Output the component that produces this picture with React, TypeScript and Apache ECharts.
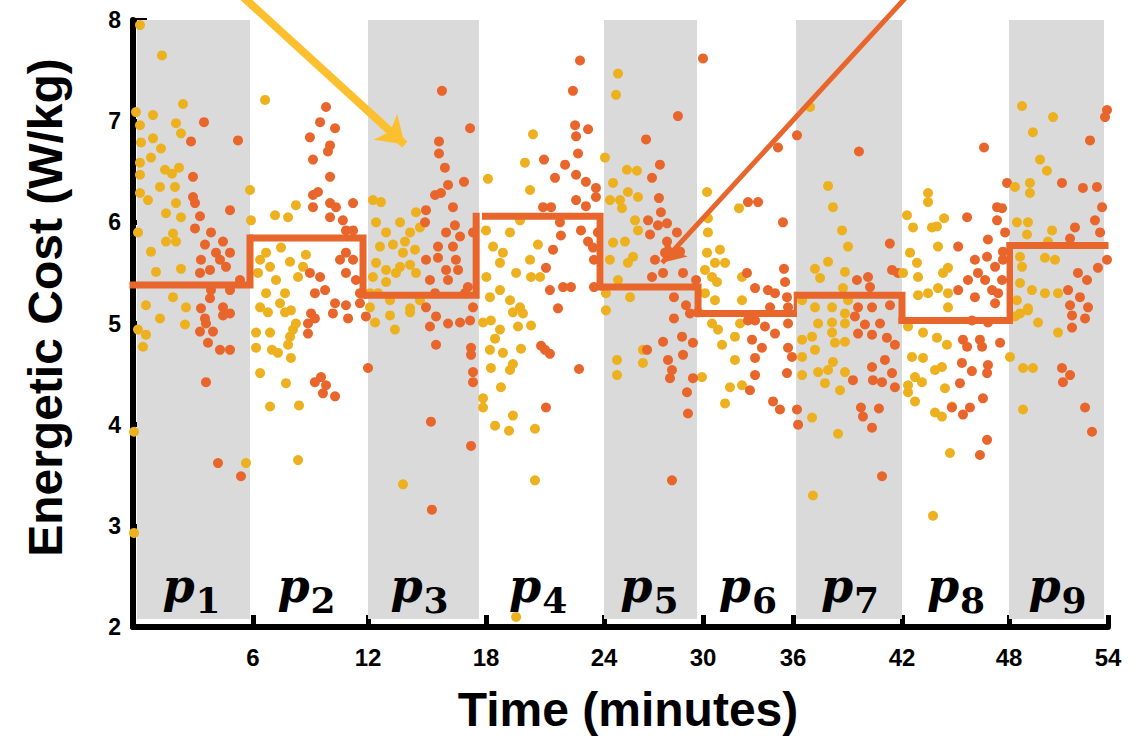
import React, { useEffect, useRef } from 'react';
import * as echarts from 'echarts';

// ---------- data ----------
const periodLabels = ['1', '2', '3', '4', '5', '6', '7', '8', '9'];
// step (period mean) line: period edges in minutes and values in W/kg
const stepEdges = [0, 5.85, 11.74, 17.5, 23.8, 29.7, 36.28, 42.0, 48.06, 53.82];
const stepValues = [5.38, 5.845, 5.28, 6.06, 5.36, 5.1, 5.28, 5.03, 5.77];
// shaded periods (minutes)
const bandEdges: [number, number][] = [[0.2, 5.85], [11.8, 17.64], [23.64, 29.64], [36.17, 42.0], [48.0, 53.76]];
const bandLow = 2.08;
const bandHigh = 8.1;
// annotation arrows [minutes, W/kg] (tail -> head)
const arrowYellow: [number, number][] = [[5.07, 8.395], [15.05, 6.77]];
const arrowOrange: [number, number][] = [[43.69, 8.395], [29.3, 5.6]];

const yellowPoints: [number, number][] = [
  // p1
  [0.35, 7.95], [1.45, 7.65], [0.15, 7.09], [1.0, 7.06], [0.35, 6.96], [2.15, 6.98], [2.5, 7.17], [2.4, 6.88], [1.0, 6.83], [1.4, 6.73],
  [0.4, 6.79], [0.9, 6.64], [0.35, 6.59], [0.35, 6.47], [1.6, 6.52], [1.95, 6.48], [2.3, 6.54], [2.1, 6.35], [2.15, 6.19], [1.35, 6.35],
  [0.35, 6.29], [0.75, 6.22], [1.65, 6.09], [2.4, 6.05], [0.25, 5.9], [2.0, 5.89], [1.65, 5.81], [0.9, 5.71], [2.15, 5.81], [1.15, 5.51],
  [2.4, 5.54], [2.0, 5.26], [0.65, 5.18], [2.65, 5.16], [1.35, 5.05], [0.65, 4.89], [2.6, 4.99], [0.5, 4.77], [0.25, 4.94], [0.05, 3.93],
  [0.05, 2.93], [5.65, 3.62], [5.85, 6.32], [5.9, 6.02],
  // p2
  [6.63, 7.21], [7.15, 6.07], [7.83, 6.05], [8.24, 6.17], [6.68, 5.7], [7.46, 5.75], [6.37, 5.63], [6.89, 5.56], [7.93, 5.61], [7.2, 5.43],
  [6.26, 5.5], [6.68, 5.3], [7.67, 5.3], [8.35, 5.46], [8.76, 5.68], [8.61, 5.56], [6.37, 5.16], [7.41, 5.2], [7.98, 5.13], [6.16, 4.91],
  [6.89, 4.91], [6.16, 4.76], [6.99, 4.74], [7.3, 4.71], [7.83, 4.79], [8.09, 4.94], [8.24, 5.0], [7.93, 4.87], [6.78, 5.11], [7.67, 5.11],
  [6.37, 4.51], [7.72, 4.41], [7.98, 4.66], [6.89, 4.18], [8.4, 4.19], [8.35, 3.65],
  // p3
  [12.25, 6.22], [12.66, 6.2], [12.41, 6.0], [12.92, 5.9], [13.63, 6.0], [14.14, 5.9], [14.44, 6.1], [14.64, 5.95], [12.61, 5.76], [13.27, 5.78],
  [13.88, 5.81], [13.78, 5.7], [14.39, 5.73], [12.41, 5.6], [12.92, 5.53], [13.63, 5.56], [14.14, 5.58], [12.25, 5.46], [12.92, 5.41], [13.42, 5.5],
  [14.44, 5.5], [12.1, 5.3], [12.51, 5.3], [13.12, 5.23], [14.14, 5.15], [14.64, 5.23], [12.1, 5.16], [12.36, 5.01], [13.12, 5.08], [13.37, 4.94],
  [14.14, 5.11], [13.78, 3.41],
  // p4
  [18.1, 6.43], [20.39, 6.87], [19.98, 6.59], [20.24, 6.32], [19.73, 6.02], [19.22, 5.9], [18.0, 5.92], [18.36, 5.76], [18.86, 5.7], [18.71, 5.6],
  [20.24, 5.63], [19.53, 5.5], [20.29, 5.46], [18.02, 5.46], [18.71, 5.33], [18.2, 5.26], [19.22, 5.23], [19.73, 5.16], [20.64, 5.78], [20.75, 5.46],
  [17.85, 5.01], [18.25, 5.03], [18.71, 4.94], [18.46, 4.85], [18.2, 4.74], [18.86, 4.71], [19.37, 4.6], [19.22, 4.54], [18.25, 4.56], [18.76, 4.37],
  [17.85, 4.26], [17.85, 4.17], [19.37, 4.09], [18.46, 3.99], [19.17, 3.94], [20.49, 3.96], [20.49, 3.45], [19.78, 4.75], [20.29, 4.98], [19.63, 4.97],
  [19.88, 5.1], [19.37, 5.11], [19.53, 2.1],
  // p5
  [24.85, 7.47], [24.73, 7.26], [24.55, 6.39], [24.36, 6.22], [24.55, 5.8], [24.36, 5.63], [24.12, 5.3], [24.12, 5.13], [24.06, 6.64], [25.39, 6.52],
  [26.0, 6.51], [24.97, 6.22], [25.45, 6.3], [25.09, 6.14], [26.06, 6.25], [25.88, 6.02], [25.27, 5.81], [25.76, 5.66], [26.06, 5.92], [25.45, 5.6],
  [24.85, 5.43], [25.58, 5.26], [24.79, 4.64], [24.79, 4.49], [26.36, 4.74], [26.36, 4.61], [29.94, 4.47],
  // p6
  [30.27, 6.3], [32.4, 6.14], [30.33, 6.04], [30.33, 5.9], [30.27, 5.7], [31.13, 5.73], [30.8, 5.6], [31.47, 5.6], [30.13, 5.53], [30.6, 5.46],
  [30.93, 5.41], [32.6, 5.46], [30.13, 5.3], [30.8, 5.23], [32.6, 5.23], [30.6, 5.0], [31.0, 4.94], [32.13, 4.87], [31.27, 4.79], [32.13, 4.64],
  [32.47, 5.0], [31.8, 4.37], [32.6, 4.39], [31.47, 4.21],
  // p7
  [37.93, 6.36], [38.2, 6.15], [38.7, 5.92], [39.03, 5.76], [36.94, 7.14], [37.93, 5.61], [37.21, 5.54], [37.49, 5.45], [38.86, 5.51], [38.75, 5.35],
  [36.5, 5.23], [37.21, 5.16], [38.15, 5.16], [39.03, 5.23], [36.5, 4.84], [37.05, 4.87], [37.38, 5.0], [38.15, 5.01], [38.86, 5.0], [38.15, 4.91],
  [38.31, 4.81], [37.21, 4.74], [38.86, 4.82], [36.5, 4.67], [36.5, 4.49], [37.38, 4.52], [37.93, 4.54], [38.2, 4.62], [38.86, 4.52], [37.76, 4.41],
  [38.59, 4.34], [37.05, 4.07], [38.48, 3.91], [37.1, 3.3], [38.86, 5.1],
  // p8
  [43.46, 6.29], [43.46, 6.2], [42.28, 6.07], [42.62, 5.95], [43.68, 5.95], [43.96, 5.96], [44.36, 6.04], [44.02, 5.76], [42.45, 5.7], [42.84, 5.6],
  [42.9, 5.46], [44.58, 5.55], [44.3, 5.5], [44.02, 5.35], [42.9, 5.28], [43.46, 5.3], [44.58, 5.3], [42.06, 5.5], [44.58, 5.16], [42.34, 4.97],
  [43.18, 4.91], [43.96, 4.86], [44.52, 4.79], [42.56, 4.67], [43.18, 4.66], [43.85, 4.54], [44.24, 4.57], [42.73, 4.47], [42.34, 4.39], [43.12, 4.42],
  [42.34, 4.32], [42.73, 4.23], [44.41, 4.36], [43.85, 4.12], [44.24, 4.08], [44.8, 4.18], [44.69, 3.72], [43.74, 3.1],
  // p9
  [48.79, 7.15], [50.67, 7.04], [49.45, 6.89], [49.88, 6.62], [50.3, 6.51], [48.36, 6.35], [49.27, 6.39], [49.27, 6.29], [48.48, 6.0], [49.15, 6.0],
  [49.09, 5.88], [50.61, 5.92], [50.36, 5.81], [48.67, 5.66], [50.18, 5.65], [50.79, 5.63], [48.79, 5.56], [48.67, 5.4], [49.39, 5.33], [50.18, 5.3],
  [48.48, 5.23], [49.15, 5.15], [50.97, 5.3], [48.67, 5.1], [49.15, 5.13], [49.76, 5.01], [50.97, 4.91], [48.85, 4.56], [49.45, 4.56], [48.85, 4.15],
  [48.06, 4.67], [48.36, 5.07],
];

const orangePoints: [number, number][] = [
  // p1
  [3.55, 6.99], [5.25, 6.81], [2.9, 6.8], [3.0, 6.45], [3.0, 6.25], [3.1, 6.19], [3.35, 6.06], [4.85, 6.12], [3.1, 5.94], [3.9, 5.9],
  [4.5, 5.81], [3.6, 5.78], [4.15, 5.7], [4.85, 5.7], [3.4, 5.63], [4.35, 5.63], [3.85, 5.53], [4.65, 5.56], [3.35, 5.5], [5.35, 5.43],
  [3.9, 5.33], [4.85, 5.33], [4.5, 5.16], [3.85, 5.25], [3.4, 5.15], [4.85, 5.1], [4.5, 5.08], [3.6, 5.05], [3.65, 5.0], [3.35, 4.92],
  [4.0, 4.92], [3.75, 4.81], [4.35, 4.74], [4.85, 4.74], [3.65, 4.42], [4.25, 3.62], [5.4, 3.49],
  // p2
  [9.81, 7.14], [9.5, 6.99], [10.28, 6.93], [8.97, 6.84], [10.02, 6.76], [9.91, 6.7], [9.13, 6.62], [10.02, 6.45], [9.13, 6.27], [9.39, 6.3],
  [9.13, 6.15], [10.02, 6.19], [10.33, 6.15], [11.22, 6.19], [10.02, 6.05], [10.69, 6.02], [10.85, 5.92], [11.22, 5.92], [10.85, 5.7], [10.54, 5.63],
  [11.22, 5.63], [10.85, 5.5], [11.37, 5.43], [9.5, 5.46], [8.97, 5.5], [9.76, 5.33], [9.23, 5.3], [10.28, 5.2], [10.85, 5.18], [11.58, 5.2],
  [11.58, 5.3], [9.03, 5.1], [8.87, 5.0], [8.87, 4.9], [9.23, 5.05], [10.17, 5.1], [10.96, 5.05], [9.23, 4.42], [9.55, 4.47], [9.81, 4.39],
  [9.65, 4.31], [10.28, 4.28], [11.89, 5.07],
  // p3
  [15.76, 7.3], [17.19, 6.93], [15.61, 6.8], [15.61, 6.68], [15.91, 6.54], [16.88, 6.4], [16.07, 6.37], [15.41, 6.27], [15.71, 6.29], [16.32, 6.15],
  [14.95, 6.12], [14.9, 6.0], [16.42, 5.97], [15.97, 5.9], [16.68, 5.86], [16.32, 5.76], [15.56, 5.76], [14.95, 5.63], [15.56, 5.65], [16.47, 5.63],
  [15.97, 5.53], [16.58, 5.53], [15.15, 5.43], [16.07, 5.43], [17.34, 5.9], [17.08, 5.36], [15.41, 5.3], [16.93, 5.3], [14.95, 5.16], [17.34, 5.16],
  [12.0, 4.56], [15.46, 5.07], [16.07, 5.0], [16.68, 5.01], [17.19, 5.03], [15.15, 4.97], [15.46, 4.79], [17.24, 4.76], [17.24, 4.69], [17.34, 4.52],
  [17.34, 4.42], [15.2, 4.03], [17.24, 3.79], [15.25, 3.16],
  // p4
  [22.78, 7.6], [22.42, 7.3], [22.53, 6.96], [23.19, 6.92], [22.58, 6.85], [20.95, 6.62], [22.68, 6.68], [22.02, 6.57], [21.51, 6.44], [22.58, 6.47],
  [23.08, 6.4], [23.59, 6.34], [20.9, 6.15], [21.31, 6.15], [22.58, 6.22], [23.08, 6.16], [23.59, 6.25], [21.76, 6.0], [22.83, 5.92], [21.81, 5.87],
  [23.19, 5.81], [21.41, 5.73], [23.44, 5.75], [21.05, 5.55], [21.92, 5.36], [22.32, 5.36], [21.25, 5.33], [23.49, 5.63], [23.49, 5.36], [21.66, 5.15],
  [23.69, 5.9], [21.0, 4.74], [20.8, 4.78], [21.25, 4.7], [22.73, 4.55], [21.05, 4.17],
  // p5
  [28.48, 7.05], [26.55, 6.82], [27.39, 6.57], [26.91, 6.44], [27.33, 6.24], [27.45, 6.1], [26.67, 6.02], [27.27, 5.97], [27.82, 5.99], [26.79, 5.88],
  [28.42, 5.9], [27.82, 5.81], [28.61, 5.71], [27.09, 5.63], [27.7, 5.7], [26.91, 5.46], [27.58, 5.5], [28.79, 5.5], [29.58, 5.43], [28.24, 5.26],
  [28.97, 5.18], [28.24, 5.05], [29.21, 5.1], [27.58, 4.82], [28.73, 4.87], [29.39, 4.81], [27.88, 4.64], [28.79, 4.69], [28.12, 4.54], [28.0, 4.46],
  [29.39, 4.46], [29.03, 4.32], [29.09, 4.11], [28.12, 3.45], [26.61, 4.74], [29.7, 5.11],
  // p6
  [30.0, 7.62], [33.0, 6.2], [33.67, 6.2], [35.0, 6.74], [35.33, 6.0], [35.4, 5.54], [35.47, 5.41], [32.93, 5.5], [33.47, 5.35], [34.33, 5.33],
  [34.8, 5.3], [35.6, 5.26], [34.47, 5.16], [35.67, 5.16], [33.47, 5.03], [34.13, 4.97], [34.8, 4.9], [35.67, 5.0], [33.27, 4.84], [33.93, 4.76],
  [33.47, 4.66], [35.67, 4.76], [35.93, 4.67], [35.6, 4.51], [33.47, 4.49], [33.13, 4.34], [34.67, 4.23], [35.13, 4.15], [36.22, 4.15], [36.28, 4.0],
  [33.0, 5.03],
  // p7
  [36.22, 6.86], [39.63, 6.7], [41.33, 5.79], [39.52, 5.43], [40.13, 5.46], [40.24, 5.36], [41.45, 5.53], [41.78, 5.5], [39.58, 5.16], [40.35, 5.16],
  [41.34, 5.18], [39.41, 5.07], [39.96, 4.99], [40.79, 5.0], [39.58, 4.9], [40.35, 4.89], [41.17, 4.86], [41.61, 4.79], [41.06, 4.64], [40.35, 4.57],
  [41.45, 4.51], [40.4, 4.44], [40.9, 4.42], [41.61, 4.37], [39.3, 4.44], [39.74, 4.17], [39.85, 4.08], [40.73, 4.16], [40.35, 3.97], [40.9, 3.49],
  // p8
  [46.6, 6.74], [45.65, 6.05], [45.15, 5.76], [47.33, 6.15], [47.61, 6.14], [47.33, 6.02], [47.78, 5.9], [46.82, 5.83], [47.66, 5.71], [46.09, 5.63],
  [46.77, 5.66], [47.22, 5.56], [47.66, 5.63], [46.26, 5.5], [45.7, 5.43], [46.66, 5.43], [47.05, 5.33], [47.61, 5.43], [46.09, 5.26], [47.39, 5.3],
  [47.22, 5.2], [45.15, 5.33], [45.42, 4.84], [45.65, 4.77], [46.37, 4.84], [46.49, 4.77], [47.5, 4.81], [45.36, 4.61], [45.92, 4.53], [46.82, 4.59],
  [46.77, 4.51], [45.25, 4.41], [46.54, 4.26], [45.81, 4.17], [45.42, 4.1], [44.8, 4.17], [46.77, 3.85], [46.37, 3.7], [45.92, 5.03], [46.82, 5.01],
  [47.89, 6.39],
  // p9
  [53.94, 7.11], [53.82, 7.04], [52.91, 6.81], [51.21, 6.39], [52.48, 6.34], [53.33, 6.35], [53.64, 6.15], [52.0, 5.95], [53.21, 6.02], [53.52, 5.9],
  [51.7, 5.84], [53.94, 5.63], [53.39, 5.55], [52.18, 5.5], [52.73, 5.43], [51.58, 5.33], [52.3, 5.26], [51.7, 5.18], [52.79, 5.16], [51.82, 5.08],
  [52.61, 5.05], [51.82, 4.96], [51.21, 4.56], [51.7, 4.49], [51.27, 4.42], [52.61, 4.17], [53.03, 3.93],
];

// ---------- layout / style ----------
const W = 1138;
const H = 741;
const gridPx = [133, 253, 368, 486, 604, 703, 793, 902, 1009, 1108];
const TOP = 20;
const PLOT_H = 607;
const YELLOW = '#EDB120';
const ORANGE = '#E8652B';
const ARROW_YELLOW = '#FCC02E';
const BAND = '#DADADA';
const SANS = 'Liberation Sans, Arial, sans-serif';
const SERIF = 'DejaVu Serif, serif';
const LABEL_Y = 2.405;

function gridOf(t: number) {
  return Math.min(8, Math.max(0, Math.floor(t / 6)));
}

function buildOption() {
  const grid: any[] = [];
  const xAxis: any[] = [];
  const yAxis: any[] = [];
  const series: any[] = [];

  for (let i = 0; i < 9; i++) {
    grid.push({ left: gridPx[i], width: gridPx[i + 1] - gridPx[i], top: TOP, height: PLOT_H });
    xAxis.push({
      type: 'value', gridIndex: i, min: 6 * i, max: 6 * i + 6, interval: 6,
      axisLine: { show: true, onZero: false, lineStyle: { color: '#000', width: 6 } },
      axisTick: { show: true, inside: true, length: 12, lineStyle: { color: '#000', width: 5 } },
      axisLabel: {
        showMinLabel: false, showMaxLabel: true, color: '#000', fontWeight: 'bold',
        fontSize: 24, fontFamily: SANS, margin: 18,
      },
      splitLine: { show: false },
    });
    if (i === 0) {
      yAxis.push({
        type: 'value', gridIndex: 0, min: 2, max: 8, interval: 1,
        axisLine: { show: true, lineStyle: { color: '#000', width: 6 } },
        axisTick: { show: true, inside: true, length: 14, lineStyle: { color: '#000', width: 5 } },
        axisLabel: { color: '#000', fontWeight: 'bold', fontSize: 23, fontFamily: SANS, margin: 12 },
        splitLine: { show: false },
        name: 'Energetic Cost (W/kg)', nameLocation: 'middle', nameGap: 64,
        nameTextStyle: { fontSize: 48, fontWeight: 'bold', color: '#000', fontFamily: SANS, padding: [0, 0, 0, 32] },
      });
    } else {
      yAxis.push({ type: 'value', gridIndex: i, min: 2, max: 8, interval: 1, show: false });
    }

    // shaded band
    if (i % 2 === 0) {
      const b = bandEdges[i / 2];
      series.push({
        type: 'line', xAxisIndex: i, yAxisIndex: i, data: [], z: 1, clip: false, silent: true,
        markArea: {
          silent: true, itemStyle: { color: BAND, opacity: 1 },
          data: [[{ xAxis: b[0], yAxis: bandLow }, { xAxis: b[1], yAxis: bandHigh }]],
        },
      });
    }

    series.push({
      type: 'scatter', xAxisIndex: i, yAxisIndex: i, z: 3, symbolSize: 10,
      itemStyle: { color: YELLOW, opacity: 1 },
      data: yellowPoints.filter((p) => gridOf(p[0]) === i),
    });
    series.push({
      type: 'scatter', xAxisIndex: i, yAxisIndex: i, z: 3, symbolSize: 10,
      itemStyle: { color: ORANGE, opacity: 1 },
      data: orangePoints.filter((p) => gridOf(p[0]) === i),
    });

    const stepData: number[][] = [[stepEdges[i], stepValues[i]], [stepEdges[i + 1], stepValues[i]]];
    if (i < 8) stepData.push([stepEdges[i + 1], stepValues[i + 1]]);
    series.push({
      type: 'line', xAxisIndex: i, yAxisIndex: i, z: 4, clip: false, silent: true,
      symbol: 'none', showSymbol: false,
      lineStyle: { color: ORANGE, width: 7, cap: 'square', join: 'miter' },
      data: stepData,
    });

    series.push({
      type: 'scatter', xAxisIndex: i, yAxisIndex: i, z: 6, silent: true, symbolSize: 0,
      itemStyle: { color: 'rgba(0,0,0,0)' },
      data: [[(stepEdges[i] + stepEdges[i + 1]) / 2, LABEL_Y]],
      label: {
        show: true, position: 'inside', color: '#000', textBorderWidth: 0, opacity: 1,
        formatter: `{p|p}{s|${periodLabels[i]}}`,
        rich: {
          p: { fontFamily: SERIF, fontStyle: 'italic', fontWeight: 'bold', fontSize: 46, color: '#000', textBorderWidth: 0 },
          s: { fontFamily: SERIF, fontWeight: 'bold', fontSize: 36, color: '#000', textBorderWidth: 0, padding: [27, 0, 0, 1] },
        },
      },
    });
  }

  // overlay grid for the x-axis title and the annotation arrows
  grid.push({ left: gridPx[0], width: gridPx[9] - gridPx[0], top: TOP, height: PLOT_H });
  xAxis.push({
    type: 'value', gridIndex: 9, min: 0, max: 54, show: true,
    axisLine: { show: false }, axisTick: { show: false }, axisLabel: { show: false }, splitLine: { show: false },
    name: 'Time (minutes)', nameLocation: 'middle', nameGap: 58,
    nameTextStyle: { fontSize: 48, fontWeight: 'bold', color: '#000', fontFamily: SANS, padding: [0, 0, 0, 15] },
  });
  yAxis.push({ type: 'value', gridIndex: 9, min: 2, max: 8, show: false });

  series.push({
    type: 'lines', coordinateSystem: 'cartesian2d', xAxisIndex: 9, yAxisIndex: 9, z: 7, clip: false, silent: true,
    symbol: ['none', 'arrow'], symbolSize: 26,
    lineStyle: { color: ARROW_YELLOW, width: 8, opacity: 1, curveness: 0 },
    data: [{ coords: arrowYellow }],
  });
  series.push({
    type: 'lines', coordinateSystem: 'cartesian2d', xAxisIndex: 9, yAxisIndex: 9, z: 7, clip: false, silent: true,
    symbol: ['none', 'arrow'], symbolSize: 22,
    lineStyle: { color: ORANGE, width: 5, opacity: 1, curveness: 0 },
    data: [{ coords: arrowOrange }],
  });

  return {
    animation: false,
    backgroundColor: '#ffffff',
    grid, xAxis, yAxis, series,
  };
}

export default function App() {
  const ref = useRef<HTMLDivElement>(null);
  useEffect(() => {
    document.body.style.margin = '0';
    if (!ref.current) return;
    const chart = echarts.init(ref.current, null, { renderer: 'svg' });
    chart.setOption(buildOption() as any);
    return () => chart.dispose();
  }, []);
  return <div ref={ref} style={{ width: W, height: H }} />;
}
